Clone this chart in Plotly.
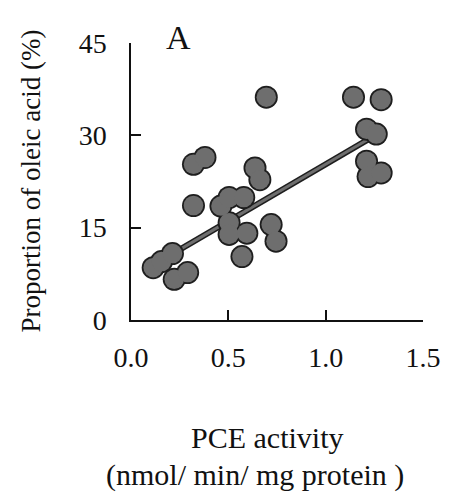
import numpy as np
import plotly.graph_objects as go

# PCE activity (nmol/min/mg protein) vs. proportion of oleic acid (%)
pce_activity = [0.114, 0.157, 0.213, 0.222, 0.291, 0.321, 0.321, 0.380,
                0.462, 0.504, 0.579, 0.504, 0.504, 0.595, 0.570,
                0.637, 0.662, 0.695, 0.720, 0.745,
                1.143, 1.285, 1.210, 1.260, 1.210, 1.218, 1.285]
oleic_pct = [8.5, 9.5, 10.8, 6.6, 7.7, 18.6, 25.3, 26.4,
             18.5, 19.9, 19.9, 15.8, 13.9, 14.1, 10.3,
             24.7, 22.8, 36.2, 15.5, 12.8,
             36.2, 35.8, 31.0, 30.2, 25.8, 23.3, 23.9]

# linear regression line
fit_intercept = 6.8
fit_slope = 18.5

x_ticks = [0.0, 0.5, 1.0, 1.5]
x_ticklabels = ["0.0", "0.5", "1.0", "1.5"]
y_ticks = [0, 15, 30, 45]

FONT = "Liberation Serif, Times New Roman, serif"
GRAY = "#6e6e6e"
DARK = "#1e1e1e"

fit_x = np.array([min(pce_activity), max(pce_activity)])
fit_y = fit_intercept + fit_slope * fit_x

fig = go.Figure()
# regression line: dark outline then gray core
fig.add_trace(go.Scatter(x=fit_x, y=fit_y, mode="lines",
                         line=dict(color=DARK, width=6), hoverinfo="skip"))
fig.add_trace(go.Scatter(x=fit_x, y=fit_y, mode="lines",
                         line=dict(color=GRAY, width=3), hoverinfo="skip"))
# points: dark halo layer under gray discs so overlapping points merge
fig.add_trace(go.Scatter(x=pce_activity, y=oleic_pct, mode="markers",
                         marker=dict(size=23, color=DARK, line=dict(width=0))))
fig.add_trace(go.Scatter(x=pce_activity, y=oleic_pct, mode="markers",
                         marker=dict(size=19.5, color=GRAY, line=dict(width=0))))

fig.update_layout(
    width=453, height=496,
    margin=dict(l=131, r=22, t=43, b=176),
    paper_bgcolor="white", plot_bgcolor="white",
    showlegend=False,
    font=dict(family=FONT, size=28, color="#111"),
    xaxis=dict(range=[0, 1.5], tickvals=x_ticks, ticktext=x_ticklabels,
               ticks="inside", ticklen=10, tickwidth=1.5, tickcolor="#111",
               showline=True, linecolor="#111", linewidth=1.5,
               showgrid=False, zeroline=False, ticklabelstandoff=12),
    yaxis=dict(range=[0, 45], tickvals=y_ticks,
               ticks="inside", ticklen=10, tickwidth=1.5, tickcolor="#111",
               showline=True, linecolor="#111", linewidth=1.5,
               showgrid=False, zeroline=False, ticklabelstandoff=17),
    annotations=[
        dict(text="A", xref="paper", yref="paper", x=0.161, y=1,
             xanchor="center", yanchor="middle", yshift=6,
             showarrow=False, font=dict(family=FONT, size=34, color="#111")),
        dict(text="Proportion of oleic acid (%)", xref="paper", yref="paper",
             x=0, y=0.5, xanchor="center", yanchor="middle", xshift=-101,
             textangle=-90, showarrow=False,
             font=dict(family=FONT, size=27, color="#111")),
        dict(text="PCE activity", xref="paper", yref="paper",
             x=0.4675, y=0, xanchor="center", yanchor="middle", yshift=-117,
             showarrow=False, font=dict(family=FONT, size=30, color="#111")),
        dict(text="(nmol/ min/ mg protein )", xref="paper", yref="paper",
             x=0.424, y=0, xanchor="center", yanchor="middle", yshift=-155,
             showarrow=False, font=dict(family=FONT, size=30, color="#111")),
    ],
)

fig.write_html("out.html")
